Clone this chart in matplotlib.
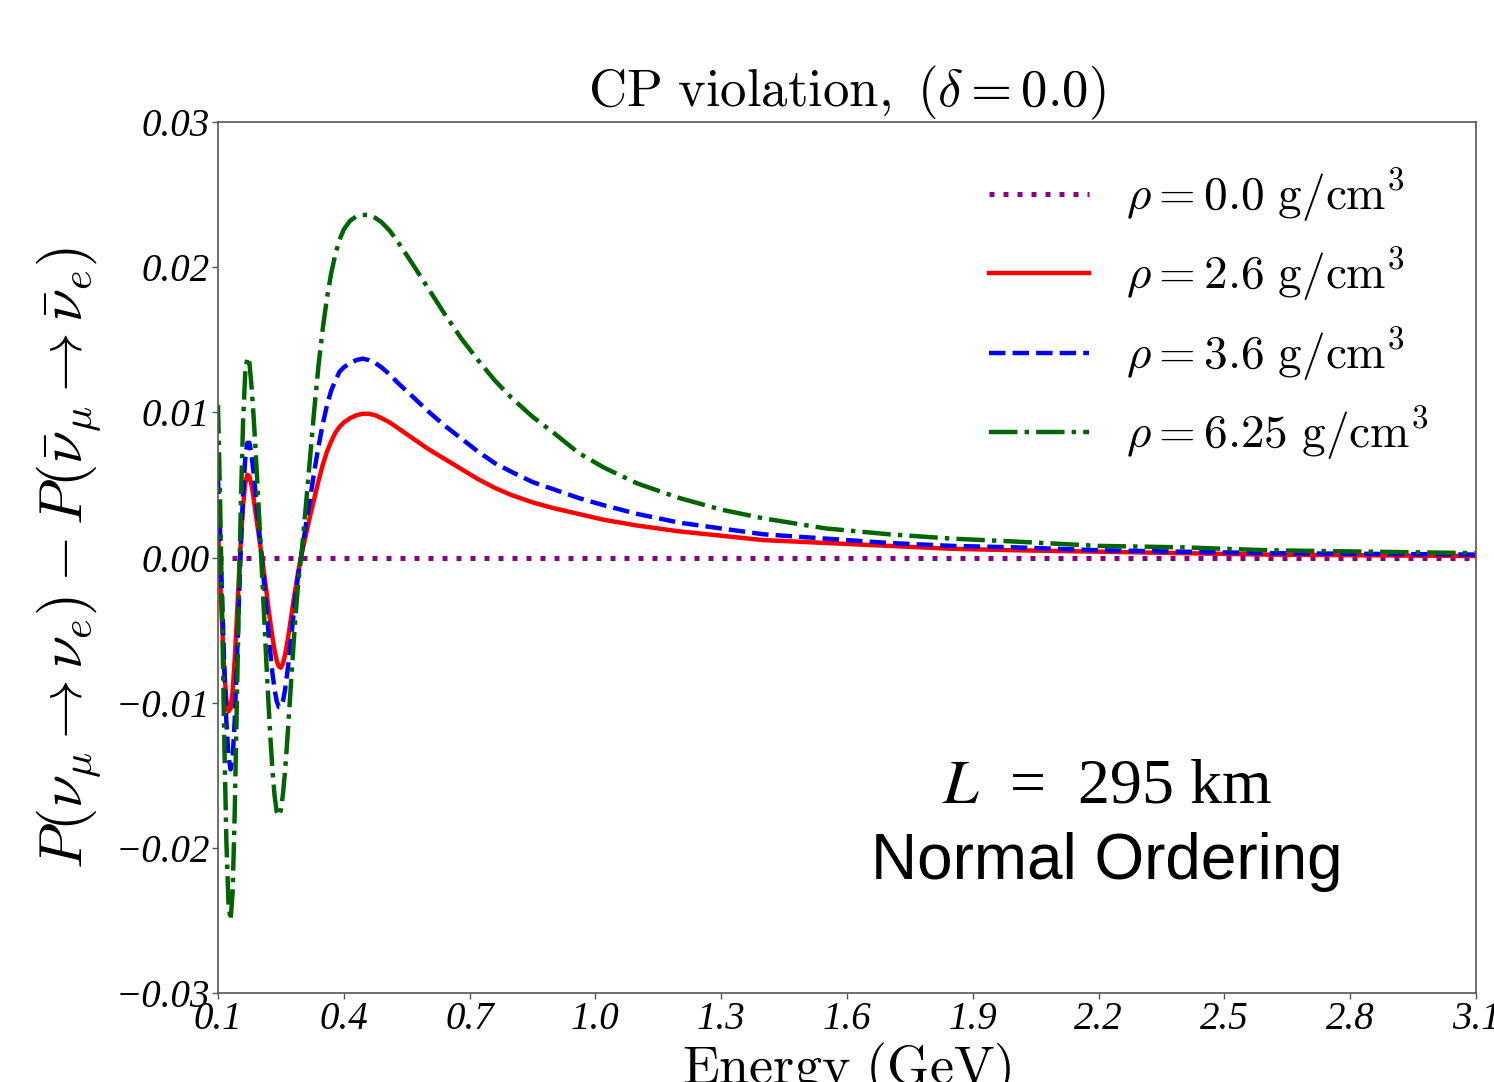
import numpy as np
import matplotlib
matplotlib.use("Agg")
import matplotlib.pyplot as plt

plt.rcParams["mathtext.fontset"] = "cm"

# energy grid (GeV)
energy = [0.100, 0.105, 0.110, 0.115, 0.120, 0.125, 0.130, 0.135, 0.140, 0.145,
          0.150, 0.155, 0.160, 0.165, 0.170, 0.175, 0.180, 0.185, 0.190, 0.195,
          0.200, 0.205, 0.210, 0.215, 0.220, 0.225, 0.230, 0.235, 0.240, 0.245,
          0.250, 0.255, 0.260, 0.265, 0.270, 0.275, 0.280, 0.285, 0.290, 0.295,
          0.300, 0.310, 0.320, 0.330, 0.340, 0.350, 0.360, 0.370, 0.380, 0.390,
          0.400, 0.415, 0.430, 0.445, 0.460, 0.475, 0.490, 0.510, 0.530, 0.560,
          0.600, 0.640, 0.680, 0.720, 0.760, 0.800, 0.850, 0.900, 0.960, 1.020,
          1.100, 1.200, 1.300, 1.400, 1.550, 1.700, 1.850, 2.000, 2.200, 2.400,
          2.600, 2.850, 3.100]

rho_00 = [0.0] * len(energy)

rho_26 = [0.0020, -0.0012, -0.0048, -0.0078, -0.0098, -0.0106, -0.0104, -0.0092, -0.0070, -0.0042,
          -0.0013, 0.0014, 0.0036, 0.0051, 0.0057, 0.0056, 0.0050, 0.0041, 0.0030, 0.0020,
          0.0010, 0.0000, -0.0011, -0.0022, -0.0034, -0.0045, -0.0055, -0.0064, -0.0071, -0.0075,
          -0.0076, -0.0073, -0.0067, -0.0059, -0.0050, -0.0040, -0.0030, -0.0021, -0.0012, -0.0004,
          0.0003, 0.0016, 0.0029, 0.0041, 0.0053, 0.0064, 0.0073, 0.0080, 0.0086, 0.0090,
          0.0093, 0.0096, 0.0098, 0.0099, 0.0099, 0.0098, 0.0096, 0.0093, 0.0089, 0.0083,
          0.0075, 0.0068, 0.0061, 0.0054, 0.0048, 0.0043, 0.0038, 0.0034, 0.0030, 0.0026,
          0.0022, 0.0018, 0.0015, 0.0012, 0.0010, 0.0008, 0.0006, 0.0005, 0.0004, 0.0003,
          0.0002, 0.00015, 0.0001]

rho_36 = [0.0055, 0.0018, -0.0028, -0.0075, -0.0113, -0.0137, -0.0146, -0.0138, -0.0112, -0.0072,
          -0.0030, 0.0010, 0.0045, 0.0068, 0.0079, 0.0079, 0.0071, 0.0058, 0.0043, 0.0028,
          0.0013, -0.0002, -0.0018, -0.0034, -0.0050, -0.0066, -0.0080, -0.0091, -0.0099, -0.0103,
          -0.0103, -0.0099, -0.0091, -0.0080, -0.0068, -0.0054, -0.0040, -0.0027, -0.0015, -0.0005,
          0.0004, 0.0023, 0.0041, 0.0060, 0.0077, 0.0092, 0.0105, 0.0115, 0.0122, 0.0128,
          0.0131, 0.0134, 0.0136, 0.0137, 0.0136, 0.0134, 0.0131, 0.0126, 0.0120, 0.0112,
          0.0101, 0.0091, 0.0082, 0.0073, 0.0065, 0.0059, 0.0052, 0.0047, 0.0041, 0.0036,
          0.0030, 0.0024, 0.0020, 0.0016, 0.0013, 0.0010, 0.0008, 0.0007, 0.0005, 0.0004,
          0.0003, 0.00025, 0.0002]

rho_625 = [0.0105, 0.0040, -0.0040, -0.0125, -0.0195, -0.0238, -0.0250, -0.0230, -0.0175, -0.0100,
           -0.0025, 0.0042, 0.0095, 0.0127, 0.0138, 0.0134, 0.0118, 0.0097, 0.0072, 0.0046,
           0.0018, -0.0011, -0.0040, -0.0070, -0.0098, -0.0124, -0.0147, -0.0164, -0.0175, -0.0178,
           -0.0174, -0.0163, -0.0147, -0.0127, -0.0105, -0.0083, -0.0061, -0.0040, -0.0022, -0.0008,
           0.0005, 0.0037, 0.0070, 0.0103, 0.0133, 0.0158, 0.0179, 0.0196, 0.0209, 0.0219,
           0.0226, 0.0232, 0.0235, 0.0236, 0.0236, 0.0234, 0.0231, 0.0225, 0.0217, 0.0204,
           0.0186, 0.0168, 0.0151, 0.0136, 0.0122, 0.0110, 0.0097, 0.0086, 0.0072, 0.0062,
           0.0051, 0.0041, 0.0033, 0.0027, 0.0020, 0.0016, 0.0013, 0.0011, 0.0008, 0.0007,
           0.0005, 0.0004, 0.0003]

xtick_vals = [0.1, 0.4, 0.7, 1.0, 1.3, 1.6, 1.9, 2.2, 2.5, 2.8, 3.1]
ytick_vals = [-0.03, -0.02, -0.01, 0.0, 0.01, 0.02, 0.03]

fig = plt.figure(figsize=(14.94, 10.82), dpi=100)
ax = fig.add_axes([0.1459, 0.0823, 0.988 - 0.1459, 0.8872 - 0.0823])

ax.plot(energy, rho_00, color="darkmagenta", lw=3.6, linestyle=(0, (1, 1.8)),
        label=r"$\rho = 0.0\ \mathrm{g/cm^3}$")
ax.plot(energy, rho_26, color="red", lw=3.2, linestyle="-",
        label=r"$\rho = 2.6\ \mathrm{g/cm^3}$")
ax.plot(energy, rho_36, color="blue", lw=3.2, linestyle="--",
        label=r"$\rho = 3.6\ \mathrm{g/cm^3}$")
ax.plot(energy, rho_625, color="darkgreen", lw=3.2, linestyle="-.",
        label=r"$\rho = 6.25\ \mathrm{g/cm^3}$")

ax.set_xlim(0.1, 3.1)
ax.set_ylim(-0.03, 0.03)
ax.set_xticks(xtick_vals)
ax.set_xticklabels([f"{v:.1f}" for v in xtick_vals])
ax.set_yticks(ytick_vals)
ax.set_yticklabels([f"{v:.2f}".replace("-", "\u2212") for v in ytick_vals])
for lab in ax.get_xticklabels() + ax.get_yticklabels():
    lab.set_fontfamily("Liberation Serif")
    lab.set_fontstyle("italic")
    lab.set_fontsize(28)
ax.tick_params(direction="out", length=4, width=1, color="#555555", pad=2)
for sp in ax.spines.values():
    sp.set_color("#555555")
    sp.set_linewidth(1.2)

ax.set_title(r"$\mathrm{CP\ violation,}\ (\delta = 0.0)$", fontsize=38, pad=10)
ax.set_xlabel(r"$\mathrm{Energy\ (GeV)}$", fontsize=39, labelpad=2)
ax.set_ylabel(r"$P(\nu_\mu \rightarrow \nu_e) - P(\bar{\nu}_\mu \rightarrow \bar{\nu}_e)$",
              fontsize=43, labelpad=8)

ax.legend(loc="upper right", bbox_to_anchor=(0.996, 0.997), frameon=False, fontsize=34,
          handlelength=2.1, handletextpad=0.8, labelspacing=0.45)

fig.text(0.741, 0.2726, r"$L$  =  295 km", fontsize=46, family="Liberation Serif",
         math_fontfamily="stix", ha="center", va="center")
fig.text(0.741, 0.2033, "Normal Ordering", fontsize=46, family="Liberation Sans",
         ha="center", va="center")

plt.savefig("out.png", dpi=100)
plt.close()
